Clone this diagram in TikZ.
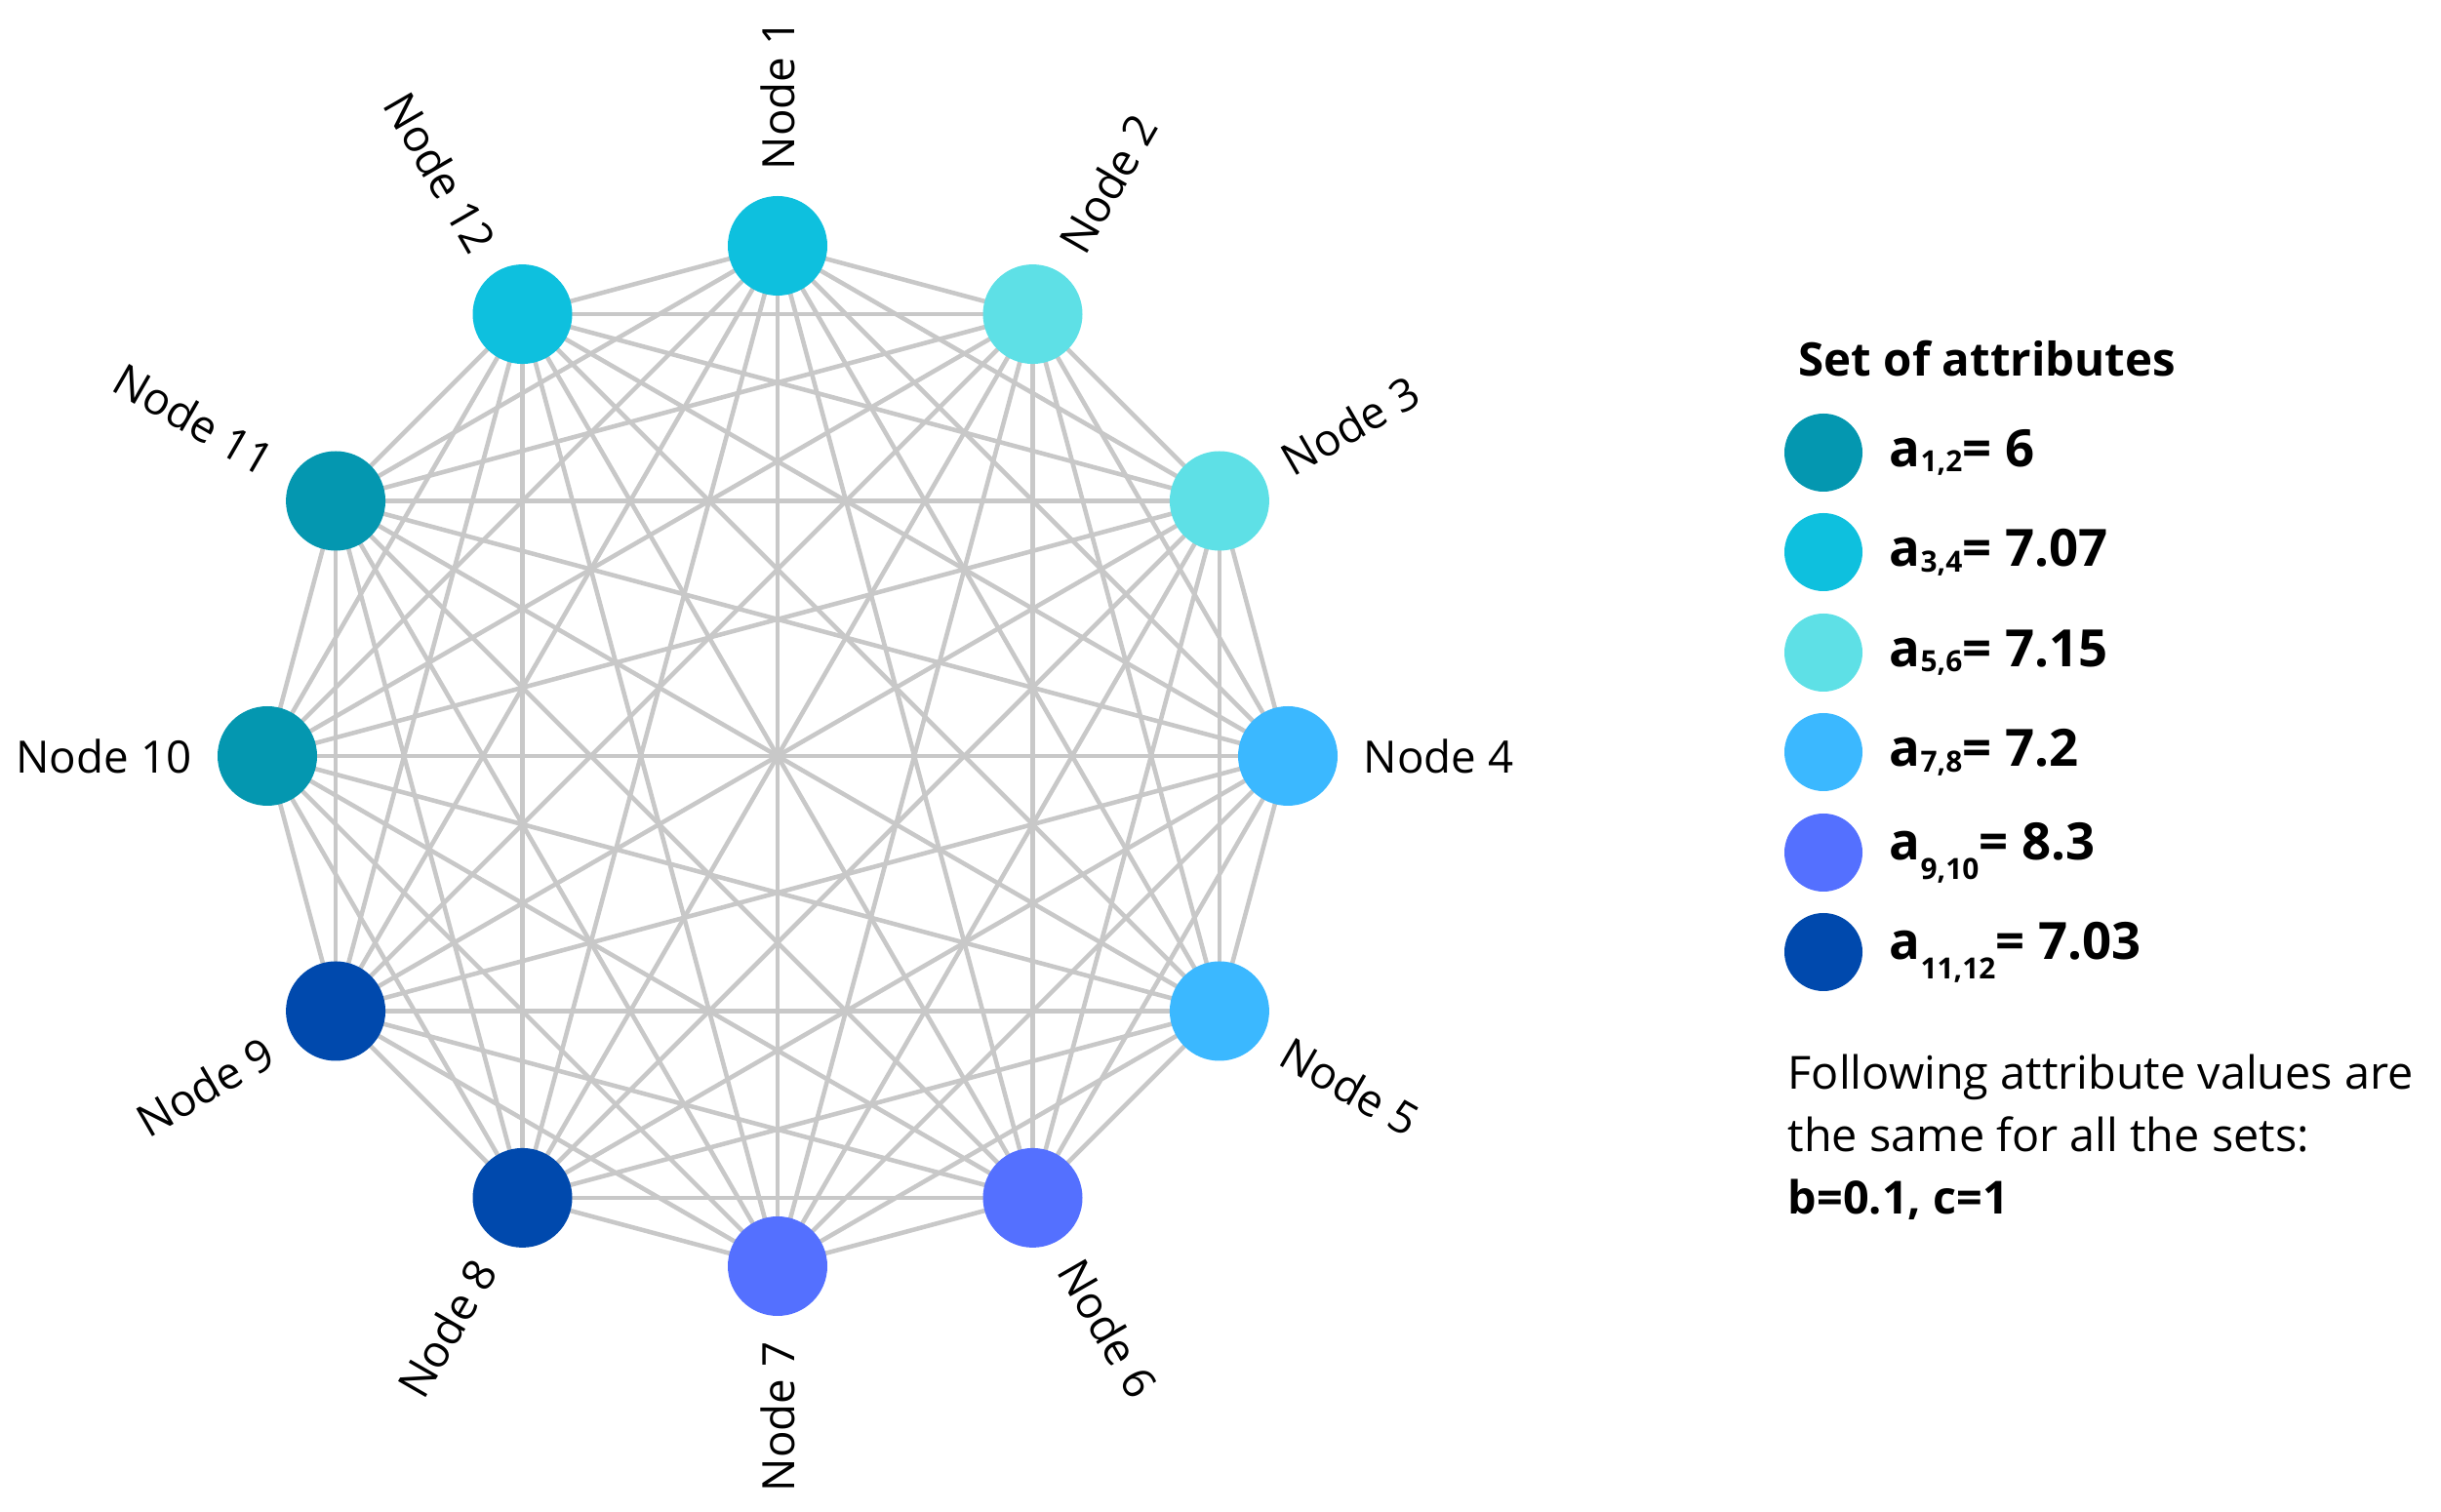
\documentclass[tikz,border=0pt]{standalone}
\usepackage{fontspec}
\setmainfont{Open Sans}
\usetikzlibrary{calc}
\definecolor{cA}{HTML}{0497B0}
\definecolor{cB}{HTML}{0EC0DE}
\definecolor{cC}{HTML}{5EE0E6}
\definecolor{cD}{HTML}{3BB8FF}
\definecolor{cE}{HTML}{5470FF}
\definecolor{cF}{HTML}{0049AD}
\definecolor{edge}{HTML}{C8C8C8}
\newcommand{\sbx}[2]{\raisebox{#1}{\fontsize{8.5}{10}\selectfont #2}}
\begin{document}
\begin{tikzpicture}[
  vert/.style={circle,minimum size=1.02cm,inner sep=0pt},
  lab/.style={font=\fontsize{13}{15}\selectfont,inner sep=0pt},
  leg/.style={circle,minimum size=0.8cm,inner sep=0pt},
  legt/.style={font=\bfseries\fontsize{15}{18}\selectfont,anchor=west,inner sep=0pt},
  ed/.style={draw=edge,line width=1.3pt}
]
\useasboundingbox (0,0) rectangle (25.02,15.5);
\coordinate (c) at (7.97,7.75);
\def\cols{{"cB","cC","cC","cD","cD","cE","cE","cF","cF","cA","cA","cB"}}
\foreach \i in {1,...,12}{
  \pgfmathsetmacro{\ang}{90-30*(\i-1)}
  \coordinate (p\i) at ($(c)+(\ang:5.23)$);
}
\foreach \i in {1,...,12}{
  \foreach \j in {1,...,12}{
    \ifnum\i<\j \draw[ed] (p\i) -- (p\j); \fi
  }
}
\foreach \i in {1,...,12}{
  \pgfmathsetmacro{\ang}{90-30*(\i-1)}
  \pgfmathsetmacro{\col}{\cols[\i-1]}
  \node[vert,fill=\col] (n\i) at (p\i) {};
}
% labels
\foreach \i in {1,...,6}{
  \pgfmathsetmacro{\ang}{90-30*(\i-1)}
  \node[lab,anchor=west,rotate=\ang] (l\i) at ($(c)+(\ang:6.0)$) {Node \i};
}
\foreach \i in {7,...,12}{
  \pgfmathsetmacro{\ang}{90-30*(\i-1)}
  \pgfmathsetmacro{\rot}{\ang+180}
  \node[lab,anchor=east,rotate=\rot] (l\i) at ($(c)+(\ang:6.0)$) {Node \i};
}
% legend
\node[anchor=west,inner sep=0pt,font=\bfseries\fontsize{13.5}{16}\selectfont] (title) at (18.43,11.82) {Set of attributes};
\node[leg,fill=cA] (g1) at (18.69,10.86) {};
\node[leg,fill=cB] (g2) at (18.69,9.84) {};
\node[leg,fill=cC] (g3) at (18.69,8.81) {};
\node[leg,fill=cD] (g4) at (18.69,7.79) {};
\node[leg,fill=cE] (g5) at (18.69,6.76) {};
\node[leg,fill=cF] (g6) at (18.69,5.74) {};
\node[legt] (t1) at (19.36,10.86) {a\sbx{-0.2ex}{1,2}= 6};
\node[legt] (t2) at (19.36,9.84) {a\sbx{-0.2ex}{3,4}= 7.07};
\node[legt] (t3) at (19.36,8.81) {a\sbx{-0.2ex}{5,6}= 7.15};
\node[legt] (t4) at (19.36,7.79) {a\sbx{-0.2ex}{7,8}= 7.2};
\node[legt] (t5) at (19.36,6.76) {a\sbx{-0.7ex}{9,10}= 8.3};
\node[legt] (t6) at (19.36,5.74) {a\sbx{-0.7ex}{11,12}= 7.03};
\node[anchor=north west,inner sep=0pt,align=left,font=\fontsize{13.3}{18.2}\selectfont] (para) at (18.32,4.70)
  {Following attribute values are\\the same for all the sets:\\\textbf{b=0.1, c=1}};
\end{tikzpicture}
\end{document}
